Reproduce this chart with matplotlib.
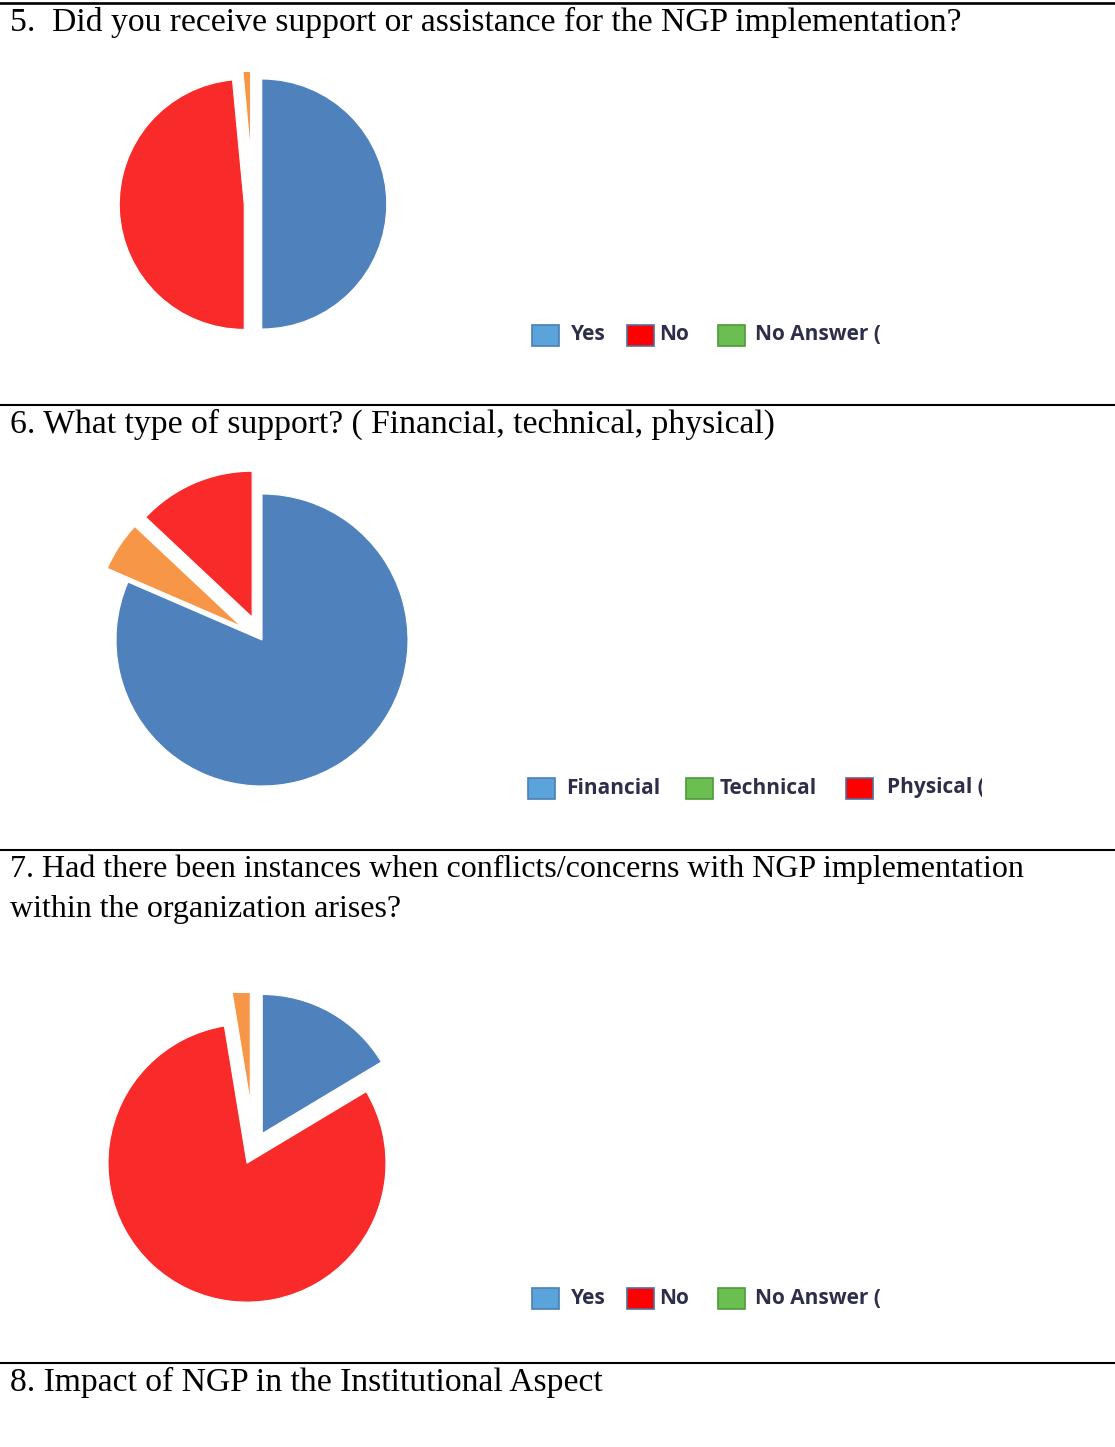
import matplotlib

matplotlib.use("Agg")
import matplotlib.pyplot as plt
from matplotlib.patches import Rectangle
from matplotlib.transforms import Bbox, TransformedBbox

W, H = 1115, 1447

# --- dados ---
q5_labels = ["Yes", "No", "No Answer ("]
q5_values = [50, 48.5, 1.5]
q5_explode = [0.07, 0.07, 0.41]

q6_labels = ["Financial", "Technical", "Physical ("]
q6_values = [81.5, 5.5, 13]
q6_explode = [0, 0.17, 0.17]

q7_labels = ["Yes", "No", "No Answer ("]
q7_values = [16.4, 81, 2.6]
q7_explode = [0.12, 0.12, 0.33]

titulos = [
    "5.  Did you receive support or assistance for the NGP implementation?",
    "6. What type of support? ( Financial, technical, physical)",
    "7. Had there been instances when conflicts/concerns with NGP implementation",
    "within the organization arises?",
    "8. Impact of NGP in the Institutional Aspect",
]

BLUE, RED, ORANGE = "#4F81BD", "#F92A2A", "#F79646"
L_BLUE, L_RED, L_GREEN = "#5BA3DB", "#FF0000", "#6ABF50"
E_BLUE, E_RED, E_GREEN = "#4A7FB0", "#4F6F9F", "#4E9A3A"

fig = plt.figure(figsize=(W / 100, H / 100), dpi=100)
fig.patch.set_facecolor("white")

# camada de fundo em pixels (linhas, titulos, legendas)
ax0 = fig.add_axes([0, 0, 1, 1])
ax0.set_xlim(0, W)
ax0.set_ylim(H, 0)
ax0.axis("off")

for y, lw in [(3, 1.9), (405, 1.5), (850, 1.5), (1363, 1.5)]:
    ax0.axhline(y, color="black", lw=lw)

serif = dict(family="Liberation Serif", color="black", va="baseline")
ax0.text(10, 31, titulos[0], fontsize=24.2, **serif)
ax0.text(10, 433, titulos[1], fontsize=24.2, **serif)
ax0.text(10, 877, titulos[2], fontsize=23, **serif)
ax0.text(10, 917, titulos[3], fontsize=23, **serif)
ax0.text(10, 1391, titulos[4], fontsize=24.2, **serif)


def pie_axes(values, colors, explode, cx, cy, r, top):
    L, R, B = 1.5, 1.6, 1.3
    x0, x1 = cx - L * r, cx + R * r
    y0, y1 = cy - top * r, cy + B * r
    ax = fig.add_axes([x0 / W, 1 - y1 / H, (x1 - x0) / W, (y1 - y0) / H])
    wedges, _ = ax.pie(values, colors=colors, explode=explode, startangle=90,
                       counterclock=False, radius=1,
                       wedgeprops=dict(edgecolor="white", linewidth=0.8))
    ax.set_aspect("auto")
    ax.set_xlim(-L, R)
    ax.set_ylim(-B, top)
    ax.axis("off")
    # recorta as fatias na area do grafico (como no original)
    for w in wedges:
        w.set_clip_on(True)
        w.set_clip_path(ax.patch)
    return ax


pie_axes(q5_values, [BLUE, RED, ORANGE], q5_explode, 253, 204, 125, 1.056)
pie_axes(q6_values, [BLUE, ORANGE, RED], q6_explode, 262, 640, 146, 1.3)
pie_axes(q7_values, [BLUE, RED, ORANGE], q7_explode, 254, 1148, 139, 1.115)


def legenda(labels, cores, bordas, sq_x, txt_x, yc, clip_x):
    clip = TransformedBbox(Bbox([[0, yc - 30], [clip_x, yc + 30]]), ax0.transData)
    for lab, c, e, sx, tx in zip(labels, cores, bordas, sq_x, txt_x):
        ax0.add_patch(Rectangle((sx, yc - 10.5), 27, 21, facecolor=c,
                                edgecolor=e, lw=1.2))
        t = ax0.text(tx, yc, lab, family="Open Sans", fontweight="bold",
                     fontsize=15, color="#2E2E4A", va="center", ha="left")
        t.set_clip_box(clip)
        t.set_clip_on(True)


legenda(q5_labels, [L_BLUE, L_RED, L_GREEN], [E_BLUE, E_RED, E_GREEN],
        [532, 627, 718], [571, 659, 755], 335, 882)
legenda(q6_labels, [L_BLUE, L_GREEN, L_RED], [E_BLUE, E_GREEN, E_RED],
        [528, 686, 846], [566, 720, 887], 788, 982)
legenda(q7_labels, [L_BLUE, L_RED, L_GREEN], [E_BLUE, E_RED, E_GREEN],
        [532, 627, 718], [571, 659, 755], 1298, 882)

plt.savefig("out.png", dpi=100)
plt.close()
